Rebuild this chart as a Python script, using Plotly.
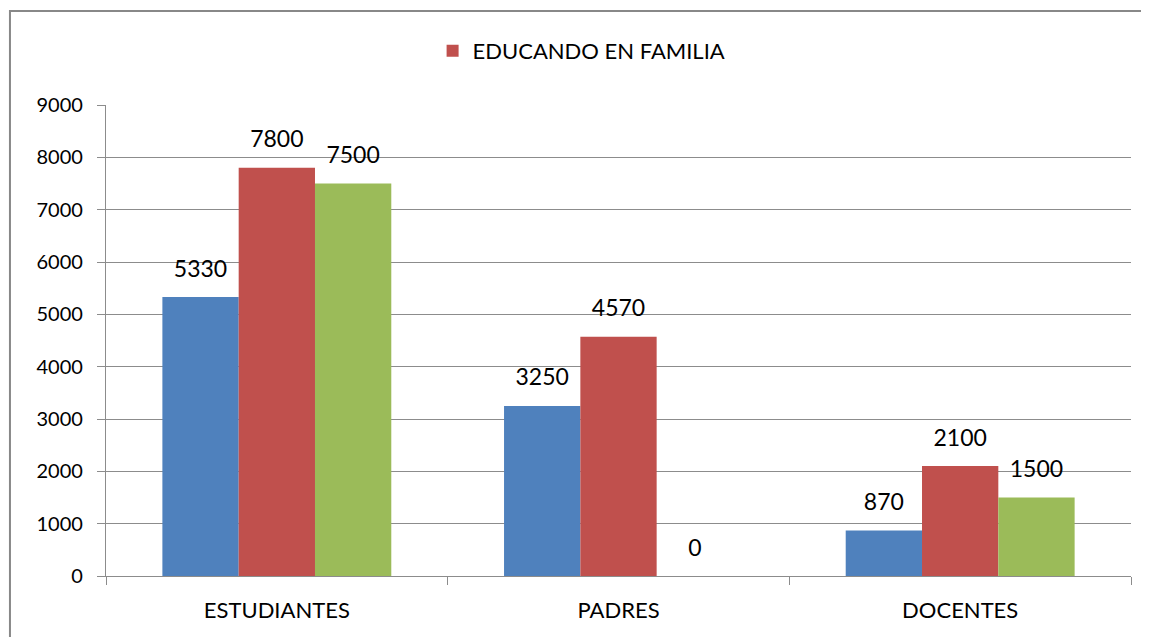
import plotly.graph_objects as go

categorias = ["ESTUDIANTES", "PADRES", "DOCENTES"]
serie_azul = [5330, 3250, 870]
serie_roja = [7800, 4570, 2100]
serie_verde = [7500, 0, 1500]
nombre_roja = "EDUCANDO EN FAMILIA"
y_ticks = [0, 1000, 2000, 3000, 4000, 5000, 6000, 7000, 8000, 9000]

FONT = "Lato, Carlito, Liberation Sans, sans-serif"
GRIS = "#8C8C8C"

fig = go.Figure()
series = [
    ("serie 1", serie_azul, "#4F81BD", False),
    (nombre_roja, serie_roja, "#C0504D", True),
    ("serie 3", serie_verde, "#9BBB59", False),
]
for i, (nombre, valores, color, leyenda) in enumerate(series):
    fig.add_trace(go.Bar(
        x=categorias, y=valores, name=nombre, offsetgroup=str(i),
        marker=dict(color=color, line=dict(width=0)),
        showlegend=leyenda,
    ))
    # value labels: text above an invisible marker, so they sit a bit off the bar top
    fig.add_trace(go.Scatter(
        x=categorias, y=valores, offsetgroup=str(i),
        mode="markers+text", text=[str(v) for v in valores],
        textposition="top center",
        textfont=dict(size=23, color="black", family=FONT),
        marker=dict(size=22, opacity=0),
        cliponaxis=False, showlegend=False, hoverinfo="skip",
    ))

# the page body adds an 8px margin, so margins are shifted by 8px
fig.update_layout(
    width=1149, height=637,
    margin=dict(l=98, r=26, t=97, b=69),
    plot_bgcolor="white", paper_bgcolor="white",
    barmode="group", bargap=0.33, bargroupgap=0,
    scattermode="group", scattergap=0.33,
    font=dict(family=FONT, size=19, color="black"),
    legend=dict(orientation="h", x=0.464, xanchor="center", y=1.115, yanchor="middle",
                font=dict(size=22), itemwidth=30),
    xaxis=dict(showgrid=False, showline=True, linecolor=GRIS, linewidth=1.3,
               ticks="outside", tickson="boundaries", ticklen=8, tickcolor=GRIS,
               tickfont=dict(size=22), ticklabelstandoff=14),
    yaxis=dict(range=[0, 9000], tickvals=y_ticks, showgrid=True, gridcolor=GRIS,
               gridwidth=1.3, showline=True, linecolor=GRIS, linewidth=1.3, zeroline=False,
               ticks="outside", ticklen=8, tickcolor=GRIS, tickfont=dict(size=20),
               ticklabelstandoff=10),
    shapes=[dict(type="rect", xref="paper", yref="paper",
                 x0=-0.0937, x1=1.2, y0=-0.3, y1=1.1996,
                 line=dict(color="#888888", width=2), fillcolor="rgba(0,0,0,0)")],
)

fig.write_html("out.html")
